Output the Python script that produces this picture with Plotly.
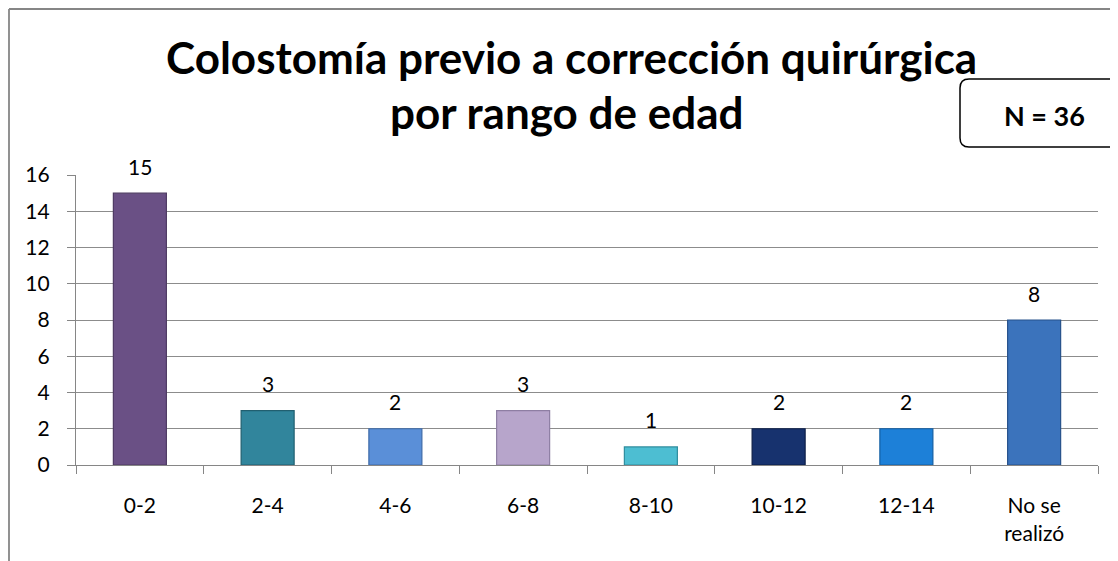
import plotly.graph_objects as go

categories = ["0-2", "2-4", "4-6", "6-8", "8-10", "10-12", "12-14", "No se<br>realizó"]
values = [15, 3, 2, 3, 1, 2, 2, 8]
bar_colors = ["#6A5085", "#31859C", "#5A8FD8", "#B7A5CB", "#4DBED2", "#17326E", "#1D80D8", "#3B73BC"]
line_colors = ["#4E3A63", "#215F70", "#3F6BA8", "#8E7EA3", "#2F8D9E", "#0D1F48", "#125EA3", "#27528C"]
y_ticks = [0, 2, 4, 6, 8, 10, 12, 14, 16]

OFF = 8  # page offset of the figure
W, H = 1118 - OFF, 561 - OFF
# plot area in page pixels: x 76..1098, y 175..465
L, R, T, B = 76 - OFF, 1118 - 1098, 175 - OFF, 561 - 465
pw, ph = W - L - R, H - T - B

def px_x(x):
    return (x - OFF - L) / pw

def px_y(y):
    return (H - B - (y - OFF)) / ph

FONT = "Lato, Carlito, Calibri, sans-serif"

fig = go.Figure(go.Bar(
    x=categories, y=values,
    marker=dict(color=bar_colors, line=dict(color=line_colors, width=1.2)),
    hoverinfo="x+y",
))

labels = [dict(x=c, y=v, xref="x", yref="y", text=str(v), showarrow=False,
               yanchor="middle", yshift=27, font=dict(size=21, family=FONT, color="#000000"))
          for c, v in zip(categories, values)]

x0, x1, y0, y1, r = 960, 1130, 79, 147, 9
path = (f"M {px_x(x0+r)} {px_y(y0)} L {px_x(x1)} {px_y(y0)} L {px_x(x1)} {px_y(y1)} "
        f"L {px_x(x0+r)} {px_y(y1)} Q {px_x(x0)} {px_y(y1)} {px_x(x0)} {px_y(y1-r)} "
        f"L {px_x(x0)} {px_y(y0+r)} Q {px_x(x0)} {px_y(y0)} {px_x(x0+r)} {px_y(y0)} Z")

fig.update_layout(
    width=W, height=H,
    margin=dict(l=L, r=R, t=T, b=B),
    paper_bgcolor="white", plot_bgcolor="white",
    showlegend=False,
    bargap=0.585,
    font=dict(family=FONT, size=21, color="#000000"),
    xaxis=dict(
        type="category",
        showline=True, linecolor="#868686", linewidth=1.3,
        ticks="outside", ticklen=8, tickcolor="#868686", tickson="boundaries",
        tickfont=dict(size=21, family=FONT), ticklabelstandoff=22,
        showgrid=False,
    ),
    yaxis=dict(
        range=[0, 16], tickvals=y_ticks,
        showline=True, linecolor="#868686", linewidth=1.3,
        ticks="outside", ticklen=8, tickcolor="#868686",
        showgrid=True, gridcolor="#8C8C8C", gridwidth=1.3,
        tickfont=dict(size=21, family=FONT), ticklabelstandoff=13,
        zeroline=False,
    ),
    shapes=[
        dict(type="line", xref="paper", yref="paper",
             x0=px_x(OFF + 1), x1=px_x(OFF + 1), y0=px_y(OFF + 1), y1=px_y(600),
             line=dict(color="#868686", width=1.8)),
        dict(type="line", xref="paper", yref="paper",
             x0=px_x(OFF + 1), x1=px_x(1117), y0=px_y(OFF + 1), y1=px_y(OFF + 1),
             line=dict(color="#868686", width=1.8)),
        dict(type="path", xref="paper", yref="paper", path=path,
             line=dict(color="#000000", width=1.5), fillcolor="white"),
    ],
    annotations=labels + [
        dict(text="<b>Colostomía previo a corrección quirúrgica</b>", xref="paper", yref="paper",
             x=px_x(571), y=px_y(57), showarrow=False, xanchor="center", yanchor="middle",
             font=dict(size=44, family=FONT, color="#000000")),
        dict(text="<b>por rango de edad</b>", xref="paper", yref="paper",
             x=px_x(566), y=px_y(112), showarrow=False, xanchor="center", yanchor="middle",
             font=dict(size=44, family=FONT, color="#000000")),
        dict(text="<b>N = 36</b>", xref="paper", yref="paper",
             x=px_x(1044), y=px_y(116), showarrow=False, xanchor="center", yanchor="middle",
             font=dict(size=27, family=FONT, color="#000000")),
    ],
)

fig.write_html("out.html")
